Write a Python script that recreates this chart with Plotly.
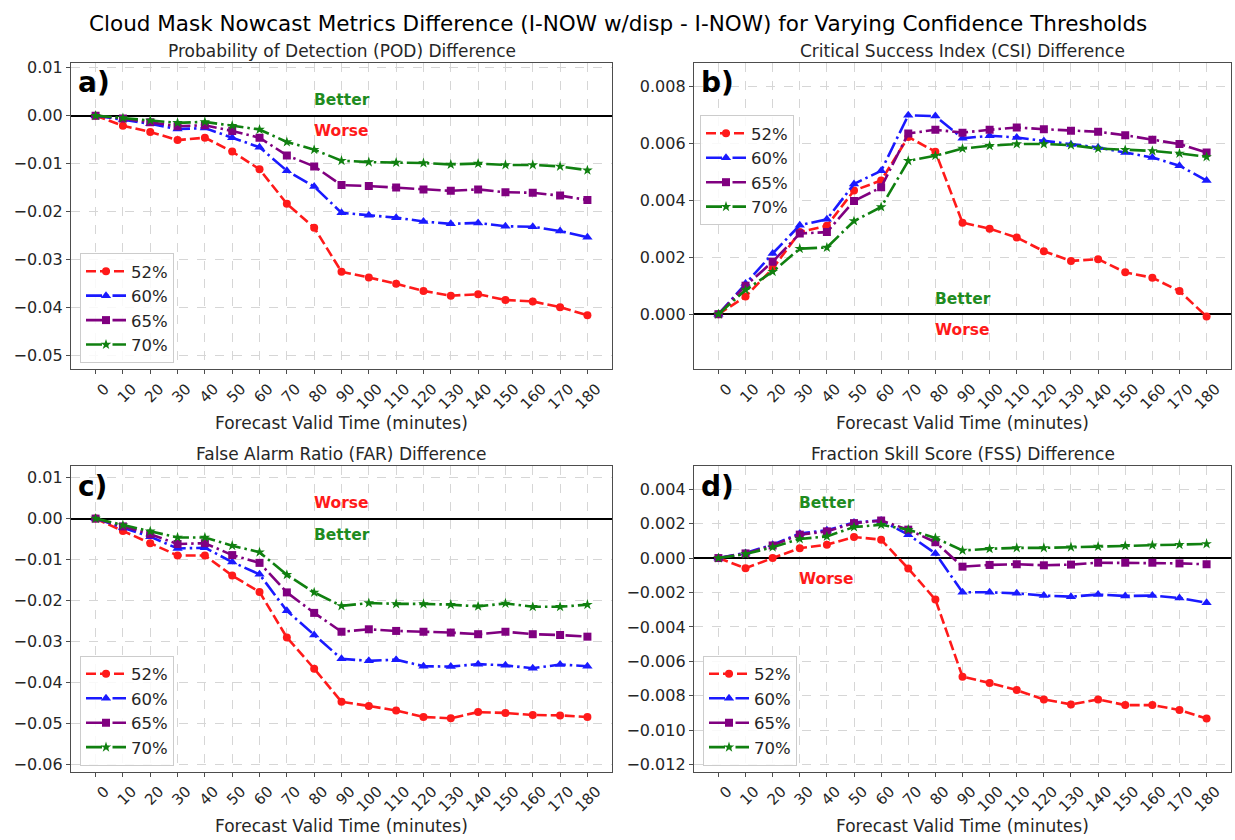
import plotly.graph_objects as go

# Forecast lead times (minutes) and confidence thresholds
minutes = list(range(0, 181, 10))
thresholds = ["52%", "60%", "65%", "70%"]

# Probability of Detection difference
pod_52 = [0, -0.0021, -0.0034, -0.0051, -0.0046, -0.0075, -0.0112, -0.0184, -0.0234, -0.0326,
          -0.0338, -0.0351, -0.0366, -0.0376, -0.0373, -0.0385, -0.0388, -0.0400, -0.0417]
pod_60 = [0, -0.0008, -0.0017, -0.0028, -0.0026, -0.0046, -0.0066, -0.0115, -0.0148, -0.0203,
          -0.0208, -0.0213, -0.0221, -0.0226, -0.0224, -0.0231, -0.0232, -0.0241, -0.0254]
pod_65 = [0, -0.0006, -0.0014, -0.0022, -0.0020, -0.0032, -0.0046, -0.0083, -0.0106, -0.0145,
          -0.0147, -0.0150, -0.0154, -0.0157, -0.0154, -0.0160, -0.0161, -0.0167, -0.0176]
pod_70 = [0, -0.0005, -0.0010, -0.0015, -0.0013, -0.0021, -0.0029, -0.0055, -0.0071, -0.0094,
          -0.0097, -0.0098, -0.0099, -0.0102, -0.0100, -0.0103, -0.0103, -0.0106, -0.0114]

# Critical Success Index difference
csi_52 = [0, 0.00062, 0.00160, 0.00288, 0.00310, 0.00434, 0.00469, 0.00622, 0.00570, 0.00321,
          0.00300, 0.00269, 0.00221, 0.00187, 0.00193, 0.00147, 0.00128, 0.00081, -0.00008]
csi_60 = [0, 0.00108, 0.00213, 0.00312, 0.00333, 0.00457, 0.00503, 0.00698, 0.00695, 0.00617,
          0.00626, 0.00620, 0.00608, 0.00595, 0.00585, 0.00567, 0.00550, 0.00521, 0.00469]
csi_65 = [0, 0.00100, 0.00184, 0.00283, 0.00288, 0.00397, 0.00445, 0.00634, 0.00647, 0.00637,
          0.00647, 0.00655, 0.00649, 0.00644, 0.00640, 0.00628, 0.00612, 0.00597, 0.00567]
csi_70 = [0, 0.00085, 0.00149, 0.00230, 0.00234, 0.00327, 0.00376, 0.00538, 0.00556, 0.00581,
          0.00591, 0.00597, 0.00597, 0.00593, 0.00581, 0.00577, 0.00573, 0.00564, 0.00552]

# False Alarm Ratio difference
far_52 = [0, -0.0030, -0.0060, -0.0090, -0.0090, -0.0139, -0.0179, -0.0290, -0.0366, -0.0447,
          -0.0457, -0.0468, -0.0484, -0.0487, -0.0472, -0.0474, -0.0479, -0.0480, -0.0484]
far_60 = [0, -0.0022, -0.0044, -0.0073, -0.0071, -0.0106, -0.0136, -0.0225, -0.0284, -0.0342,
          -0.0347, -0.0344, -0.0360, -0.0361, -0.0355, -0.0358, -0.0365, -0.0356, -0.0360]
far_65 = [0, -0.0019, -0.0038, -0.0062, -0.0060, -0.0089, -0.0108, -0.0180, -0.0230, -0.0276,
          -0.0270, -0.0274, -0.0276, -0.0278, -0.0282, -0.0276, -0.0282, -0.0284, -0.0288]
far_70 = [0, -0.0016, -0.0031, -0.0046, -0.0046, -0.0066, -0.0082, -0.0137, -0.0180, -0.0213,
          -0.0206, -0.0208, -0.0208, -0.0210, -0.0214, -0.0207, -0.0215, -0.0215, -0.0210]

# Fraction Skill Score difference
fss_52 = [0, -0.00059, 0.0, 0.00057, 0.00078, 0.00122, 0.00107, -0.00061, -0.00241, -0.00689,
          -0.00725, -0.00767, -0.00821, -0.00850, -0.00821, -0.00854, -0.00854, -0.00882, -0.00932]
fss_60 = [0, 0.00030, 0.00078, 0.00142, 0.00161, 0.00207, 0.00218, 0.00136, 0.00027, -0.00199,
          -0.00199, -0.00205, -0.00218, -0.00224, -0.00212, -0.00220, -0.00218, -0.00232, -0.00260]
fss_65 = [0, 0.00027, 0.00073, 0.00136, 0.00155, 0.00203, 0.00218, 0.00165, 0.00092, -0.00050,
          -0.00040, -0.00036, -0.00042, -0.00038, -0.00027, -0.00027, -0.00027, -0.00031, -0.00036]
fss_70 = [0, 0.00023, 0.00063, 0.00111, 0.00126, 0.00180, 0.00193, 0.00165, 0.00117, 0.00044,
          0.00054, 0.00059, 0.00059, 0.00063, 0.00067, 0.00071, 0.00075, 0.00078, 0.00082]

panel_titles = ["Probability of Detection (POD) Difference",
                "Critical Success Index (CSI) Difference",
                "False Alarm Ratio (FAR) Difference",
                "Fraction Skill Score (FSS) Difference"]
panel_letters = ["a)", "b)", "c)", "d)"]
panel_series = [[pod_52, pod_60, pod_65, pod_70],
                [csi_52, csi_60, csi_65, csi_70],
                [far_52, far_60, far_65, far_70],
                [fss_52, fss_60, fss_65, fss_70]]

# y tick values per panel
yticks_a = [0.01, 0.0, -0.01, -0.02, -0.03, -0.04, -0.05]
yticks_b = [0.008, 0.006, 0.004, 0.002, 0.0]
yticks_c = [0.01, 0.0, -0.01, -0.02, -0.03, -0.04, -0.05, -0.06]
yticks_d = [0.004, 0.002, 0.0, -0.002, -0.004, -0.006, -0.008, -0.010, -0.012]

# ---- styling ----
W, H = 1235, 840
FONT = "DejaVu Sans"
TXT = "#262626"
colors = ["#ff1a1a", "#1a1aff", "#800080", "#108010"]
dashes = ["10px,4px", "16px,4px,2.5px,4px", "16px,4px,2.5px,4px", "16px,4px,2.5px,4px"]
symbols = ["circle", "triangle-up", "square", "star"]
msizes = [8, 9, 8, 8]

# panel boxes in pixels: (left, right, top, bottom)
boxes = [(71, 612, 59, 368), (694, 1231, 59, 368),
         (71, 612, 466, 774), (694, 1231, 466, 774)]
yranges = [[-0.0529, 0.0111], [-0.00192, 0.00883], [-0.0617, 0.0128], [-0.0124, 0.00534]]
ytick_sets = [yticks_a, yticks_b, yticks_c, yticks_d]
ydecimals = [2, 3, 2, 3]
# Better / Worse label placement (x, y_better, y_worse)
bw_pos = [(90, 0.0032, -0.0032), (90, 0.00055, -0.00057),
          (90, -0.0039, 0.0039), (40, 0.0032, -0.0012)]
# legend anchors (paper px): (x_left, y, yanchor)
legend_pos = [(80, 362, "bottom"), (700, 112, "top"), (80, 768, "bottom"), (703, 768, "bottom")]


def fmt_tick(v, nd):
    s = f"{v:.{nd}f}"
    if s.startswith("-"):
        s = "\u2212" + s[1:]
    return s


fig = go.Figure()
layout = dict(
    width=W, height=H, margin=dict(l=0, r=0, t=0, b=0),
    paper_bgcolor="white", plot_bgcolor="white",
    font=dict(family=FONT, size=14, color=TXT),
    showlegend=True,
)
annotations = []

for i in range(4):
    left, right, top, bottom = boxes[i]
    sfx = "" if i == 0 else str(i + 1)
    xa, ya = "x" + sfx, "y" + sfx
    leg = "legend" if i == 0 else "legend" + str(i + 1)

    for j, series in enumerate(panel_series[i]):
        fig.add_trace(go.Scatter(
            x=minutes, y=series, name=thresholds[j], mode="lines+markers",
            xaxis=xa, yaxis=ya, legend=leg,
            line=dict(color=colors[j], width=2.6, dash=dashes[j]),
            marker=dict(symbol=symbols[j], size=msizes[j], color=colors[j]),
        ))

    axis_common = dict(
        showline=True, mirror=True, linecolor="#4d4d4d", linewidth=1.3,
        ticks="outside", ticklen=4, tickcolor="#4d4d4d",
        showgrid=True, gridcolor="#d6d6d6", gridwidth=0.8, griddash="dash",
    )
    layout["xaxis" + sfx] = dict(
        axis_common, domain=[left / W, right / W], anchor=ya,
        range=[-9, 189], tickmode="array", tickvals=minutes,
        ticktext=[str(m) for m in minutes], tickangle=-45, ticklabelshift=9,
        tickfont=dict(family=FONT, size=15, color=TXT),
        zeroline=False,
    )
    layout["yaxis" + sfx] = dict(
        axis_common, domain=[1 - bottom / H, 1 - top / H], anchor=xa,
        range=yranges[i], tickmode="array", tickvals=ytick_sets[i],
        ticktext=[fmt_tick(v, ydecimals[i]) for v in ytick_sets[i]],
        tickfont=dict(family=FONT, size=16, color=TXT),
        zeroline=True, zerolinecolor="black", zerolinewidth=1.6,
    )
    lx, ly, yanc = legend_pos[i]
    layout[leg] = dict(
        x=lx / W, y=1 - ly / H, xref="paper", yref="paper",
        xanchor="left", yanchor=yanc,
        bgcolor="rgba(255,255,255,0.85)", bordercolor="#cccccc", borderwidth=1,
        font=dict(family=FONT, size=16.5, color=TXT), itemwidth=40,
        tracegroupgap=0,
    )

    cx = (left + right) / 2 / W
    # subplot title
    annotations.append(dict(
        text=panel_titles[i], x=cx, y=1 - (top - 12) / H, xref="paper", yref="paper",
        xanchor="center", yanchor="middle", showarrow=False,
        font=dict(family=FONT, size=17, color=TXT)))
    # x axis title
    annotations.append(dict(
        text="Forecast Valid Time (minutes)", x=cx, y=1 - (bottom + 55) / H,
        xref="paper", yref="paper", xanchor="center", yanchor="middle", showarrow=False,
        font=dict(family=FONT, size=17, color=TXT)))
    # panel letter
    annotations.append(dict(
        text="<b>" + panel_letters[i] + "</b>", x=0.01, y=0.995,
        xref=xa + " domain", yref=ya + " domain", xanchor="left", yanchor="top",
        showarrow=False, font=dict(family=FONT, size=28, color="black")))
    # Better / Worse labels
    bx, by, wy = bw_pos[i]
    annotations.append(dict(
        text="<b>Better</b>", x=bx, y=by, xref=xa, yref=ya, showarrow=False,
        xanchor="center", yanchor="middle", font=dict(family=FONT, size=15.5, color="#1f8c1f")))
    annotations.append(dict(
        text="<b>Worse</b>", x=bx, y=wy, xref=xa, yref=ya, showarrow=False,
        xanchor="center", yanchor="middle", font=dict(family=FONT, size=15.5, color="#ff1a1a")))

annotations.append(dict(
    text="Cloud Mask Nowcast Metrics Difference (I-NOW w/disp - I-NOW) for Varying Confidence Thresholds",
    x=0.5, y=1 - 20 / H, xref="paper", yref="paper", xanchor="center", yanchor="middle",
    showarrow=False, font=dict(family=FONT, size=21.5, color="black")))

layout["annotations"] = annotations
fig.update_layout(**layout)
fig.write_html("out.html")
